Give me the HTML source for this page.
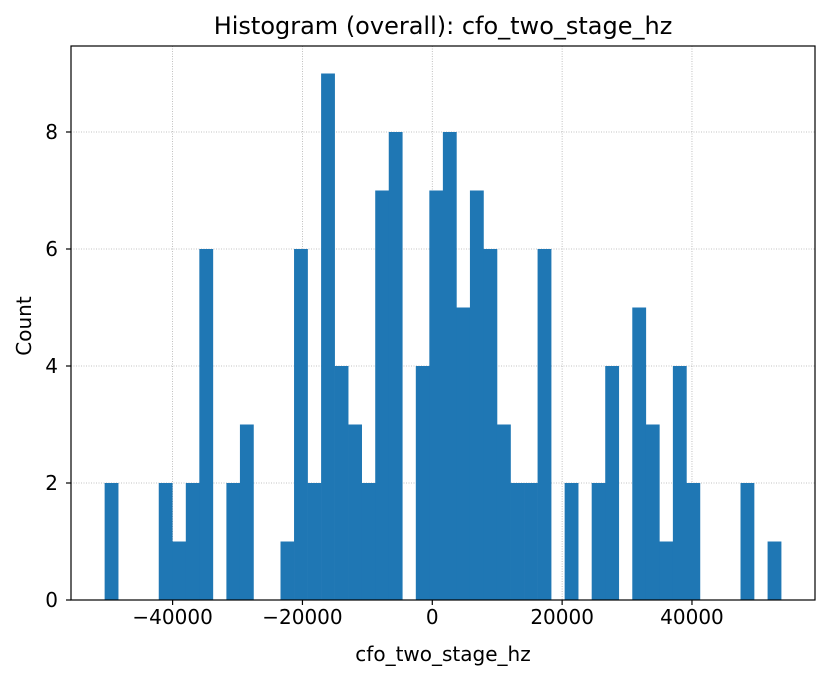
<!DOCTYPE html>
<html><head><meta charset="utf-8">
<style>
body{margin:0;background:#fff;}
svg{display:block;font-family:"DejaVu Sans","Liberation Sans",sans-serif;}
</style></head>
<body>
<svg id="chart" width="830" height="679" viewBox="0 0 830 679">
<text x="443" y="34" text-anchor="middle" font-size="24">Histogram (overall): cfo_two_stage_hz</text>
<text x="443" y="661" text-anchor="middle" font-size="20">cfo_two_stage_hz</text>
<text transform="translate(31,326) rotate(-90)" text-anchor="middle" font-size="20">Count</text>
<g id="grid"></g><g id="bars"></g><g id="axes"></g>
</svg>
<script>
const counts=[2,0,0,0,2,1,2,6,0,2,3,0,0,1,6,2,9,4,3,2,7,8,0,4,7,8,5,7,6,3,2,2,6,0,2,0,2,4,0,5,3,1,4,2,0,0,0,2,0,1];
const binStart=-50470;
const binWidth=2084;
const xTicks=[-40000,-20000,0,20000,40000];
const xTickLabels=["\u221240000","\u221220000","0","20000","40000"];
const yTicks=[0,2,4,6,8];
const L=71,R=815,T=46,B=600;
const xMin=-55650,xMax=58950,yMin=0,yMax=9.47;
function xs(v){return L+(v-xMin)/(xMax-xMin)*(R-L);}
function ys(v){return B-(v-yMin)/(yMax-yMin)*(B-T);}
const NS="http://www.w3.org/2000/svg";
function mk(tag,attrs,parent){const e=document.createElementNS(NS,tag);for(const k in attrs)e.setAttribute(k,attrs[k]);parent.appendChild(e);return e;}
const grid=document.getElementById('grid'),bars=document.getElementById('bars'),axes=document.getElementById('axes');
xTicks.forEach((t,i)=>{
 const x=xs(t);
 const g=mk('line',{x1:x,x2:x,y1:T,y2:B,stroke:'#b0b0b0','stroke-width':0.8,'stroke-dasharray':'1,1.5'},grid);
 
 
 const tk=mk('line',{x1:x,x2:x,y1:B,y2:B+5,stroke:'#000','stroke-width':1.2},axes);
 
 
 const tx=mk('text',{x:x,y:B+24,'text-anchor':'middle','font-size':20},axes);
 tx.textContent=xTickLabels[i];
 
 
});
yTicks.forEach(t=>{
 const y=ys(t);
 const g=mk('line',{x1:L,x2:R,y1:y,y2:y,stroke:'#b0b0b0','stroke-width':0.8,'stroke-dasharray':'1,1.5'},grid);
 
 
 const tk=mk('line',{x1:L-5,x2:L,y1:y,y2:y,stroke:'#000','stroke-width':1.2},axes);
 
 
 const tx=mk('text',{x:L-13,y:y+7,'text-anchor':'end','font-size':20},axes);
 tx.textContent=String(t);
 
 
});
counts.forEach((c,i)=>{
 if(c<=0)return;
 const x0=xs(binStart+i*binWidth),x1=xs(binStart+(i+1)*binWidth);
 const r=mk('rect',{x:x0,y:ys(c),width:x1-x0+0.3,height:ys(0)-ys(c),fill:'#1f77b4'},bars);
 
 
});
const f=mk('rect',{x:L,y:T,width:R-L,height:B-T,fill:'none',stroke:'#000','stroke-width':1.2},axes);


</script>
</body></html>
